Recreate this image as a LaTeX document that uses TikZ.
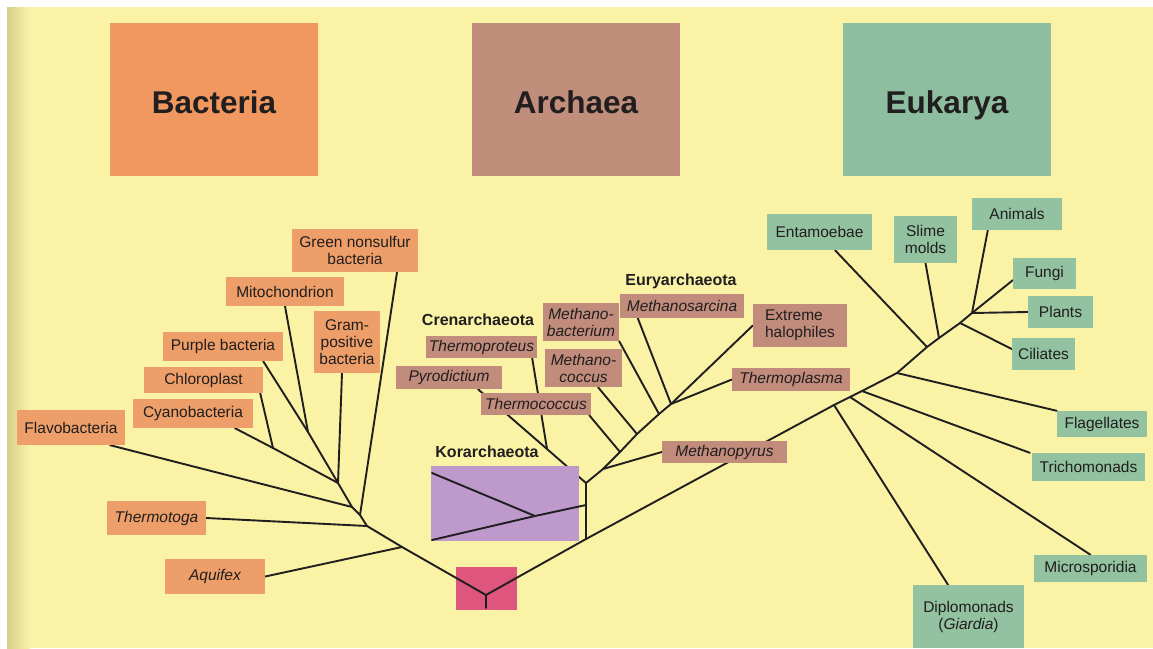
\documentclass[tikz,border=0pt]{standalone}
\usepackage{fontspec}
\setmainfont{Liberation Sans}
\pgfdeclarelayer{bg}
\pgfsetlayers{bg,main}
\definecolor{paper}{RGB}{250,243,166}
\definecolor{edgeC}{RGB}{214,208,140}
\definecolor{ink}{RGB}{32,30,30}
\definecolor{bacT}{RGB}{240,152,96}
\definecolor{bacS}{RGB}{238,158,104}
\definecolor{arcT}{RGB}{192,142,122}
\definecolor{arcS}{RGB}{194,140,124}
\definecolor{eukT}{RGB}{142,190,160}
\definecolor{eukS}{RGB}{146,194,160}
\definecolor{korC}{RGB}{190,154,204}
\definecolor{rootC}{RGB}{222,86,126}
\newcommand\lblfont{\fontsize{15.5}{17}\selectfont}
\newcommand\ttlfont{\fontsize{31.5}{34}\selectfont\bfseries}
\newcommand\grpfont{\fontsize{16}{18}\selectfont\bfseries}
\begin{document}
\begin{tikzpicture}[x=1pt,y=-1pt,
  lbl/.style={inner sep=0pt, align=center, text=ink, font=\lblfont},
  bac/.style={lbl, fill=bacS},
  arc/.style={lbl, fill=arcS},
  euk/.style={lbl, fill=eukS},
  ttl/.style={inner sep=0pt, minimum width=208pt, text height=90pt, text depth=63pt, text=ink, font=\ttlfont, anchor=north},
  grp/.style={inner sep=0pt, text=ink, font=\grpfont},
  branch/.style={draw=ink, line width=1.9pt, line cap=round}]
\useasboundingbox (0,0) rectangle (1153,648);
% ---- domain titles
\node[ttl, fill=bacT] (tbac) at (214,23) {Bacteria};
\node[ttl, fill=arcT] (tarc) at (576,23) {Archaea};
\node[ttl, fill=eukT] (teuk) at (947,23) {Eukarya};
% ---- bacteria
\node[bac, minimum width=126pt, minimum height=43pt] (gns) at (355,250.5) {Green nonsulfur\\bacteria};
\node[bac, minimum width=118pt, minimum height=29pt] (mito) at (285,291.5) {Mitochondrion};
\node[bac, minimum width=66pt, minimum height=62pt] (gram) at (347,342) {Gram-\\positive\\bacteria};
\node[bac, minimum width=120pt, minimum height=29pt] (purple) at (223,346.5) {Purple bacteria};
\node[bac, minimum width=119pt, minimum height=26pt] (chloro) at (203.5,380) {Chloroplast};
\node[bac, minimum width=120pt, minimum height=29pt] (cyano) at (193,413.5) {Cyanobacteria};
\node[bac, minimum width=108pt, minimum height=35pt] (flavo) at (71,427.5) {Flavobacteria};
\node[bac, minimum width=99pt, minimum height=34pt] (ttoga) at (156.5,518) {\itshape Thermotoga};
\node[bac, minimum width=100pt, minimum height=35pt] (aquif) at (215,576.5) {\itshape Aquifex};
% ---- root and Korarchaeota
\node[inner sep=0pt, fill=korC, minimum width=148pt, minimum height=75pt] (kor) at (505,503.5) {};
\node[grp] (korl) at (487,452) {Korarchaeota};
\node[inner sep=0pt, fill=rootC, minimum width=61pt, minimum height=43pt] (root) at (486.5,588.5) {};
% ---- archaea
\node[grp] (crenl) at (478,320) {Crenarchaeota};
\node[grp] (euryl) at (681,281) {Euryarchaeota};
\node[arc, minimum width=111pt, minimum height=22pt] (tprot) at (481.5,347) {\itshape Thermoproteus};
\node[arc, minimum width=106pt, minimum height=23pt] (pyro) at (449,377.5) {\itshape Pyrodictium};
\node[arc, minimum width=110pt, minimum height=22pt] (tcoc) at (536,404) {\itshape Thermococcus};
\node[arc, minimum width=76pt, minimum height=38pt] (mbact) at (581,322) {\itshape Methano-\\\itshape bacterium};
\node[arc, minimum width=124pt, minimum height=24pt] (msarc) at (682,306) {\itshape Methanosarcina};
\node[arc, minimum width=77pt, minimum height=38pt] (mcoc) at (583.5,368) {\itshape Methano-\\\itshape coccus};
\node[arc, align=left, minimum width=94pt, minimum height=43pt] (halo) at (800,325.5) {Extreme\\halophiles};
\node[arc, minimum width=118pt, minimum height=23pt] (tplas) at (791,379.5) {\itshape Thermoplasma};
\node[arc, minimum width=125pt, minimum height=22pt] (mpyr) at (724.5,452) {\itshape Methanopyrus};
% ---- eukarya
\node[euk, minimum width=105pt, minimum height=36pt] (entam) at (819.5,232) {Entamoebae};
\node[euk, minimum width=63pt, minimum height=47pt] (slime) at (925.5,239.5) {Slime\\molds};
\node[euk, minimum width=90pt, minimum height=32pt] (animals) at (1017,214) {Animals};
\node[euk, minimum width=63pt, minimum height=31pt] (fungi) at (1044.5,273.5) {Fungi};
\node[euk, minimum width=65pt, minimum height=32pt] (plants) at (1060.5,312) {Plants};
\node[euk, minimum width=63pt, minimum height=32pt] (cil) at (1043.5,354) {Ciliates};
\node[euk, minimum width=90pt, minimum height=26pt] (flag) at (1102,424) {Flagellates};
\node[euk, minimum width=113pt, minimum height=28pt] (trich) at (1088.5,467) {Trichomonads};
\node[euk, minimum width=113pt, minimum height=27pt] (micro) at (1090.5,568.5) {Microsporidia};
\node[euk, minimum width=111pt, minimum height=63pt] (diplo) at (968.5,616.5) {Diplomonads\\(\textit{Giardia})};
% ---- junctions
\coordinate (r0) at (486,595);
\coordinate (r1) at (486,608);
\coordinate (jAq) at (402,547);
\coordinate (jTt) at (367,526);
\coordinate (jGN) at (360,515);
\coordinate (jFl) at (352,507);
\coordinate (jB1) at (338,483);
\coordinate (jPM) at (308,432);
\coordinate (jCC) at (273,448);
\coordinate (jA0) at (586,539);
\coordinate (jKm) at (586,505);
\coordinate (jKi) at (535,516);
\coordinate (jA1) at (586,483);
\coordinate (jCr) at (547,449);
\coordinate (jE0) at (603,469);
\coordinate (jTc) at (620,452);
\coordinate (jMc) at (637,434);
\coordinate (jMb) at (659,414);
\coordinate (jE1) at (671,404);
\coordinate (jD) at (834,405);
\coordinate (jMs) at (850,397);
\coordinate (jTr) at (862,391);
\coordinate (jFg) at (897,373);
\coordinate (jEn) at (927,347);
\coordinate (jSm) at (939,338);
\coordinate (jCi) at (960,323);
\coordinate (jTop) at (972,313);
\coordinate (kA) at (432,473);
\coordinate (kB) at (432,540);
% ---- branches drawn over the root and Korarchaeota boxes
\draw[branch] (r1) -- (r0) -- (jAq);
\draw[branch] (r0) -- (jA0);
\draw[branch] (jKm) -- (jKi) -- (kA);
\draw[branch] (jKi) -- (kB);
% ---- branches (behind the label boxes)
\begin{pgfonlayer}{bg}
\fill[white] (0,0) rectangle (1153,648);
\fill[paper] (7,7) rectangle (1153,648);
\shade[left color=edgeC, right color=paper] (7,7) rectangle (30,648);
% bacteria
\draw[branch] (jAq) -- (jTt) -- (jGN) -- (jFl) -- (jB1);
\draw[branch] (jAq) -- (aquif.east);
\draw[branch] (jTt) -- (ttoga.east);
\draw[branch] (jGN) -- ([xshift=42pt]gns.south);
\draw[branch] (jFl) -- ([xshift=-15pt]flavo.south east);
\draw[branch] (jB1) -- ([xshift=-5pt]gram.south);
\draw[branch] (jB1) -- (jPM) -- (mito.south);
\draw[branch] (jPM) -- ([xshift=-20pt]purple.south east);
\draw[branch] (jB1) -- (jCC) -- ([xshift=42pt]cyano.south);
\draw[branch] (jCC) -- ([xshift=-3pt]chloro.south east);
% archaea
\draw[branch] (jA0) -- (jA1);
\draw[branch] (jA1) -- (jCr) -- ([xshift=29pt]pyro.south);
\draw[branch] (jCr) -- ([xshift=-5pt]tprot.south east);
\draw[branch] (jA1) -- (jE0) -- (jTc) -- (jMc) -- (jMb) -- (jE1);
\draw[branch] (jE0) -- (mpyr.west);
\draw[branch] (jTc) -- ([xshift=-2pt]tcoc.south east);
\draw[branch] (jMc) -- ([xshift=14.5pt]mcoc.south);
\draw[branch] (jMb) -- (mbact.south east);
\draw[branch] (jE1) -- ([xshift=18pt]msarc.south west);
\draw[branch] (jE1) -- (halo.west);
\draw[branch] (jE1) -- (tplas.west);
% eukarya
\draw[branch] (jA0) -- (jD) -- (jMs) -- (jTr) -- (jFg) -- (jEn) -- (jSm) -- (jCi) -- (jTop);
\draw[branch] (jD) -- ([xshift=-20.5pt]diplo.north);
\draw[branch] (jMs) -- (micro.north);
\draw[branch] (jTr) -- ([xshift=-2pt]trich.north west);
\draw[branch] (jFg) -- (flag.north west);
\draw[branch] (jEn) -- ([xshift=15.5pt]entam.south);
\draw[branch] (jSm) -- (slime.south);
\draw[branch] (jCi) -- ([yshift=5pt]cil.west);
\draw[branch] (jTop) -- ([xshift=16pt]animals.south west);
\draw[branch] (jTop) -- ([yshift=9pt]fungi.south west);
\draw[branch] (jTop) -- (plants.west);
\end{pgfonlayer}
\end{tikzpicture}
\end{document}
